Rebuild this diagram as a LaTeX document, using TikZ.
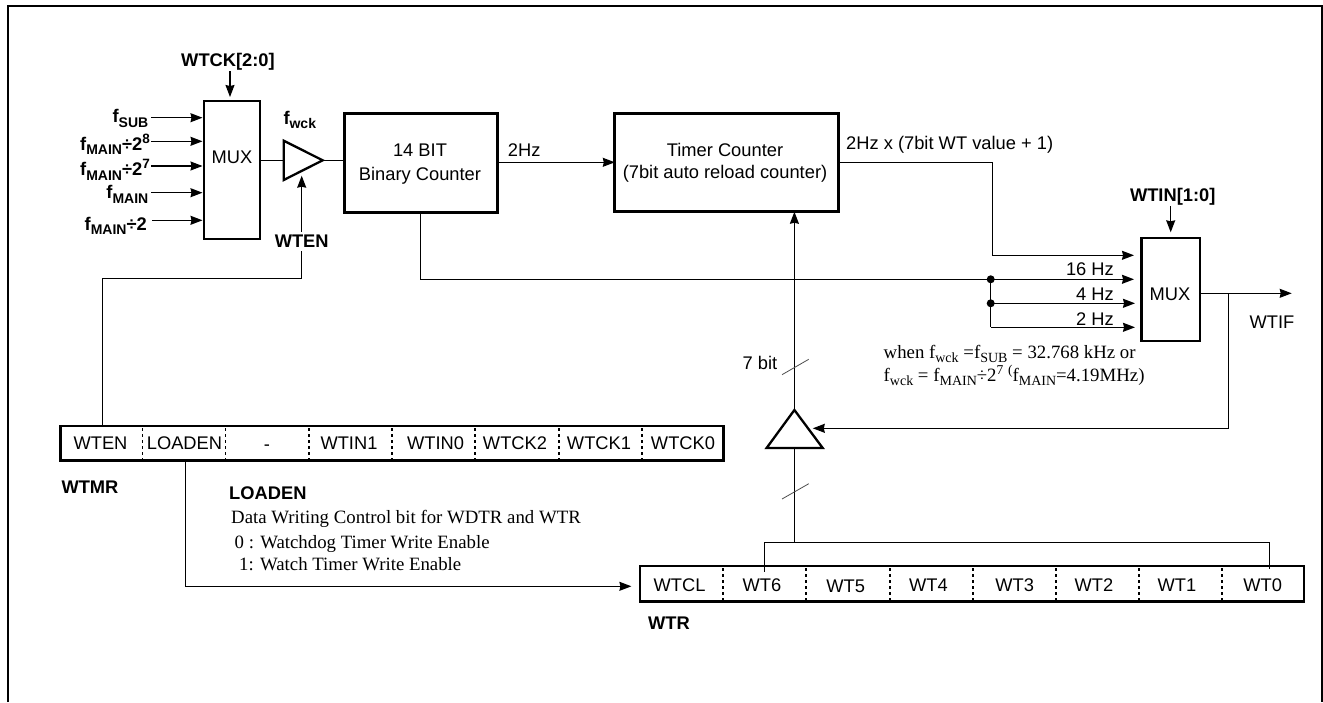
\documentclass[tikz,border=0pt]{standalone}
\usepackage{fontspec}
\setmainfont{Liberation Sans}
\newfontfamily\serifLabel{Liberation Serif}
\usetikzlibrary{arrows.meta}
% small raised and lowered text for the clock names
\newcommand{\lowText}[1]{\raisebox{-4.5pt}{\fontsize{14}{14}\selectfont #1}}
\newcommand{\highText}[1]{\raisebox{7pt}{\fontsize{13.5}{14}\selectfont #1}}

\begin{document}
\begin{tikzpicture}[
    x=1pt, y=-1pt,
    % blocks and wires
    blockStyle/.style={draw=black, line width=2.8pt, inner sep=0pt, outer sep=0pt, align=center},
    wireStyle/.style={draw=black, line width=1.2pt},
    arrowStyle/.style={wireStyle, -{Stealth[length=12pt,width=9pt,inset=1pt]}},
    slashStyle/.style={draw=black!70, line width=0.8pt},
    cellStyle/.style={draw=black, line width=1.6pt, dash pattern=on 3pt off 3pt},
    dotStyle/.style={circle, fill=black, inner sep=0pt, minimum size=8pt},
    % texts
    plainText/.style={inner sep=0pt, align=center, font=\fontsize{18.3}{23}\selectfont},
    boldText/.style={inner sep=0pt, font=\fontsize{18.3}{23}\selectfont\bfseries},
    serifText/.style={inner sep=0pt, font=\fontsize{18.8}{23}\selectfont\serifLabel}
]
    \useasboundingbox (0,0) rectangle (1323,702);

    % outer frame, open at the bottom
    \draw[line width=2pt] (7.7,702) -- (7.7,5.7) -- (1322,5.7) -- (1322,702);

    % Clock select
    \node[blockStyle, minimum width=56pt, minimum height=138pt] (muxClock) at (232,170) {};
    \node[plainText] (muxClockText) at (232,157.5) {MUX};
    \node[boldText] (wtckLabel) at (228,61.5) {WTCK[2:0]};
    \coordinate (wtckEnd) at (230,71);
    \draw[arrowStyle] (wtckEnd) -- (230,97);

    \node[boldText, anchor=base east] (fSub) at (148.5,122.7) {f\lowText{SUB}};
    \node[boldText, anchor=base east] (fMainA) at (150,150) {f\lowText{MAIN}÷2\highText{8}};
    \node[boldText, anchor=base east] (fMainB) at (150,175.7) {f\lowText{MAIN}÷2\highText{7}};
    \node[boldText, anchor=base east] (fMainC) at (148.5,198.7) {f\lowText{MAIN}};
    \node[boldText, anchor=base east] (fMainD) at (147,230) {f\lowText{MAIN}÷2};
    \coordinate (fSubEnd) at (151,117.7);
    \coordinate (fMainAEnd) at (151,141.3);
    \coordinate (fMainBEnd) at (151,166);
    \coordinate (fMainCEnd) at (151,192.7);
    \coordinate (fMainDEnd) at (152,220.3);
    \draw[arrowStyle] (fSubEnd) -- (202.5,117.7);
    \draw[arrowStyle] (fMainAEnd) -- (202.5,141.3);
    \draw[arrowStyle] (fMainBEnd) -- (202.5,166);
    \draw[arrowStyle] (fMainCEnd) -- (202.5,192.7);
    \draw[arrowStyle] (fMainDEnd) -- (202.5,220.3);

    % Buffer after the clock select
    \coordinate (bufClockIn) at (283.7,160.3);
    \coordinate (bufClockOut) at (322.7,160.3);
    \coordinate (bufClockGate) at (301.7,175.7);
    \draw[line width=2.3pt, line join=miter] (283.7,140.7) -- (bufClockOut) -- (283.7,180) -- cycle;
    \node[boldText, anchor=base west] (fWck) at (283.3,124) {f\lowText{wck}};
    \draw[wireStyle] (muxClock.east |- bufClockIn) -- (bufClockIn);

    % Counters
    \node[blockStyle, minimum width=153pt, minimum height=98.5pt] (binCounter) at (420.7,163) {};
    \node[plainText] (binCounterText) at (420,164) {14 BIT\\[1pt]Binary Counter};
    \node[blockStyle, minimum width=224pt, minimum height=98.5pt] (timerCounter) at (726.8,162.5) {};
    \node[plainText] (timerCounterText) at (725,163) {Timer Counter\\[-1pt](7bit auto reload counter)};
    \draw[wireStyle] (bufClockOut) -- (bufClockOut -| binCounter.west);
    \draw[arrowStyle] (binCounter.east |- 0,162.3) -- (timerCounter.west |- 0,162.3);
    \node[plainText, anchor=west] (hzLabel) at (507.7,150) {2Hz};
    \node[plainText, anchor=west] (hzValue) at (846,145) {2Hz x (7bit WT value + 1)};

    % Interval select
    \node[blockStyle, minimum width=58.3pt, minimum height=103pt] (muxInterval) at (1170.8,289.5) {};
    \node[plainText] (muxIntervalText) at (1170,294) {MUX};
    \node[boldText] (wtinLabel) at (1172.7,196.7) {WTIN[1:0]};
    \coordinate (wtinEnd) at (1170.7,206);
    \draw[arrowStyle] (wtinEnd) -- (1170.7,232.3);
    \node[plainText, anchor=east] (hzSixteen) at (1114,269) {16 Hz};
    \node[plainText, anchor=east] (hzFour) at (1114,294) {4 Hz};
    \node[plainText, anchor=east] (hzTwo) at (1114,319) {2 Hz};
    \node[dotStyle] (tapA) at (990.7,279.3) {};
    \node[dotStyle] (tapB) at (990.7,303.3) {};
    \coordinate (tapC) at (990.7,327.3);
    \draw[wireStyle] (tapA.center) -- (tapB.center) -- (tapC);
    \draw[arrowStyle] (timerCounter.east |- 0,162.3) -- (992.3,162.3) -- (992.3,255.3) -- (1134,255.3);
    \draw[arrowStyle] (420.7,212) -- (420.7,279.3) -- (tapA.center) -- (1134,279.3);
    \draw[arrowStyle] (tapB.center) -- (1135,303.3);
    \draw[arrowStyle] (tapC) -- (1135,327.3);
    \node[plainText] (wtifLabel) at (1272,321.7) {WTIF};
    \coordinate (wtifEnd) at (1291.7,293.3);
    \draw[arrowStyle] (muxInterval.east |- wtifEnd) -- (wtifEnd);
    \node[serifText, anchor=base west] (noteA) at (883.5,358) {when f\lowText{wck} =f\lowText{SUB} = 32.768 kHz or};
    \node[serifText, anchor=base west] (noteB) at (883.5,381) {f\lowText{wck} = f\lowText{MAIN}÷2\highText{7} \highText{(}f\lowText{MAIN}=4.19MHz)};

    % Buffer in front of the timer counter
    \coordinate (bufLoadApex) at (794.4,410);
    \coordinate (bufLoadBase) at (794.4,448);
    \coordinate (bufLoadGate) at (812.8,428.3);
    \draw[line width=2.3pt, line join=miter] (bufLoadApex) -- (822.7,448) -- (766.6,448) -- cycle;
    \draw[arrowStyle] (bufLoadApex) -- (timerCounter.south -| bufLoadApex);
    \draw[slashStyle] (782,374.7) -- (808.7,359.3);
    \node[plainText] (bitLabel) at (760,362.7) {7 bit};
    \draw[arrowStyle] (1228.7,293.3) -- (1228.7,428.3) -- (bufLoadGate);

    % Register WTMR
    \node[blockStyle, minimum width=663pt, minimum height=34.7pt] (wtmrBox) at (392,443.4) {};
    \draw[cellStyle] (142.5,428) -- (142.5,459) (225.6,428) -- (225.6,459) (309,428) -- (309,459)
        (391.7,428) -- (391.7,459) (475,428) -- (475,459) (558.8,428) -- (558.8,459) (641.8,428) -- (641.8,459);
    \node[plainText] (wtmrEn) at (100.5,443) {WTEN};
    \node[plainText] (wtmrLoad) at (184.5,443) {LOADEN};
    \node[plainText] (wtmrBlank) at (267,448) {-};
    \node[plainText] (wtmrInA) at (349,443) {WTIN1};
    \node[plainText] (wtmrInB) at (435.6,443) {WTIN0};
    \node[plainText] (wtmrCkA) at (515,443) {WTCK2};
    \node[plainText] (wtmrCkB) at (599,443) {WTCK1};
    \node[plainText] (wtmrCkC) at (683,443) {WTCK0};
    \node[boldText, anchor=west] (wtmrName) at (61.3,486.7) {WTMR};

    % Gate signal back to the clock buffer
    \node[boldText] (wtenLabel) at (bufClockGate |- 0,241.5) {WTEN};
    \draw[arrowStyle] (bufClockGate |- 0,231.7) -- (bufClockGate);
    \draw[wireStyle] (wtenLabel.north |- 0,251) -- (bufClockGate |- 0,278.3) -- (102.3,278.3) -- (102.3,426);

    % Note on LOADEN
    \node[boldText, anchor=west] (loadTitle) at (229,493) {LOADEN};
    \node[serifText, anchor=west] (loadA) at (231,519) {Data Writing Control bit for WDTR and WTR};
    \node[serifText, anchor=west] (loadB) at (234.5,544) {0 : Watchdog Timer Write Enable};
    \node[serifText, anchor=west] (loadC) at (239,564) {1: Watch Timer Write Enable};

    % Register WTR
    \node[blockStyle, minimum width=664pt, minimum height=35.7pt] (wtrBox) at (972,583.8) {};
    \draw[cellStyle] (723,568) -- (723,600) (806,568) -- (806,600) (890,568) -- (890,600) (973,568) -- (973,600)
        (1056,568) -- (1056,600) (1139,568) -- (1139,600) (1222,568) -- (1222,600);
    \node[plainText] (wtrClear) at (679.6,585) {WTCL};
    \node[plainText] (wtrSix) at (762,585) {WT6};
    \node[plainText] (wtrFive) at (845.6,586.5) {WT5};
    \node[plainText] (wtrFour) at (928.5,585) {WT4};
    \node[plainText] (wtrThree) at (1014.6,585) {WT3};
    \node[plainText] (wtrTwo) at (1094,585) {WT2};
    \node[plainText] (wtrOne) at (1177,585) {WT1};
    \node[plainText] (wtrZero) at (1262.6,585) {WT0};
    \node[boldText, anchor=west] (wtrName) at (648,623) {WTR};
    \draw[arrowStyle] (185.5,0 |- wtmrBox.south) -- (185.5,586.3) -- (631.4,586.3);
    \draw[wireStyle] (bufLoadBase) -- (794.4,542.3);
    \draw[wireStyle] (764.4,571.7) -- (764.4,542.3) -- (1269.8,542.3) -- (1269.8,569);
    \draw[slashStyle] (782,499) -- (808.8,483.7);
\end{tikzpicture}
\end{document}
